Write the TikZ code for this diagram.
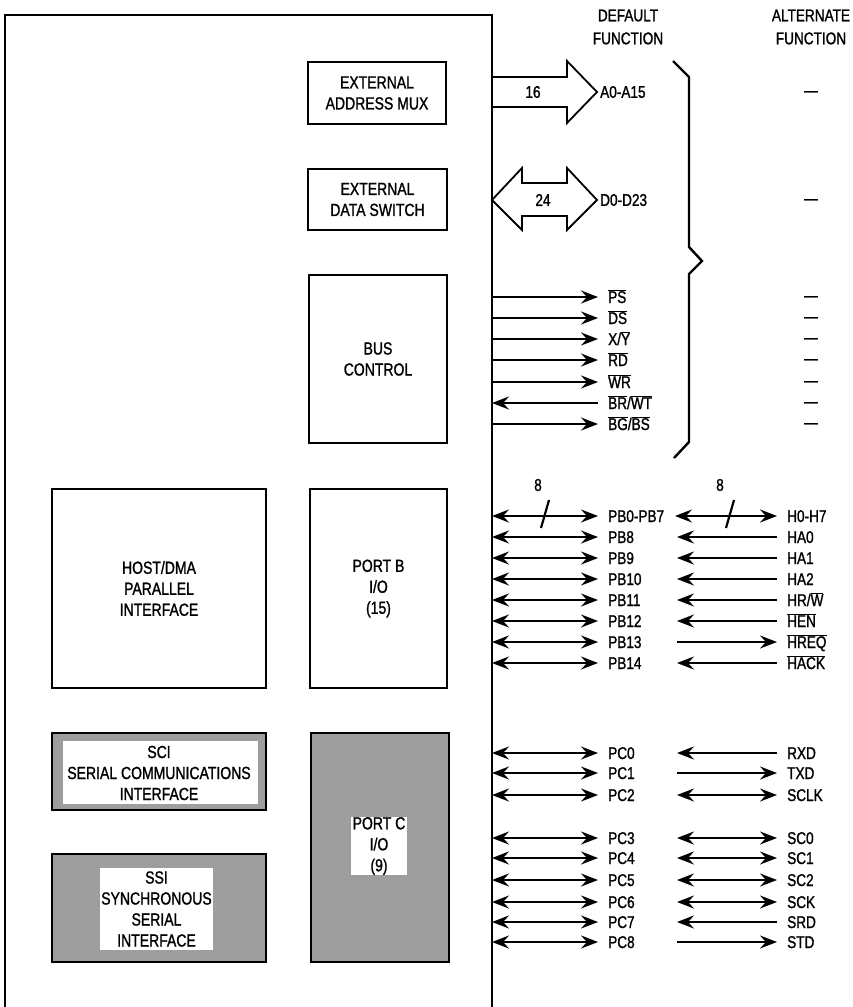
\documentclass[tikz,border=0pt]{standalone}
\usepackage{fontspec}
\setmainfont{Liberation Sans}[FakeStretch=0.8,FakeBold=1.2]
\usetikzlibrary{arrows.meta}
\newcommand\olx[1]{$\overline{\mbox{#1}}$}
\newcommand\defrow[4]{%
  \coordinate (c#1) at (492,#2);
  \coordinate (e#1) at (598,#2);
  \node[lbl,anchor=base west] (d#1) at (608,#2+6) {#3};
  \draw[sig,#4] (c#1) -- (e#1);}
\newcommand\altrow[5]{%
  \coordinate (f#1) at (#5,#2);
  \coordinate (g#1) at (777,#2);
  \node[lbl,anchor=base west] (a#1) at (787,#2+6) {#3};
  \draw[sig,#4] (f#1) -- (g#1);}
\newcommand\dashrow[2]{\node[lbl,anchor=base] (x#1) at (811,#2+4) {---};}
\begin{document}
\begin{tikzpicture}[x=1pt,y=-1pt,
  every node/.style={inner sep=0pt},
  boxtxt/.style={font=\fontsize{17.5}{21}\selectfont, align=center},
  lbl/.style={font=\fontsize{17}{21}\selectfont},
  blk/.style={draw, line width=1.9pt, boxtxt},
  shade/.style={blk, fill=black!38},
  hole/.style={fill=white, boxtxt},
  sig/.style={line width=2.2pt},
  bus/.style={line width=1.8pt, line join=miter},
  >={Stealth[length=17pt,width=13pt,inset=6pt]}]
\useasboundingbox (0,0) rectangle (852,1007);
\fill[white] (0,0) rectangle (852,1007);
% chip outline
\draw[line width=2.8pt] (5,1012) -- (5,15) -- (492,15) -- (492,1012);
% blocks
\node[blk, minimum width=138pt, minimum height=62pt] (eam) at (377,93) {EXTERNAL\\ADDRESS MUX};
\node[blk, minimum width=139pt, minimum height=61pt] (eds) at (377.5,199.5) {EXTERNAL\\DATA SWITCH};
\node[blk, minimum width=138pt, minimum height=168pt] (bus) at (378,359) {BUS\\CONTROL};
\node[blk, minimum width=214pt, minimum height=199pt] (host) at (159,588.5) {HOST/DMA\\PARALLEL\\INTERFACE};
\node[blk, minimum width=137pt, minimum height=199pt] (portb) at (378.5,588.5) {PORT B\\I/O\\(15)};
% SCI
\node[shade, minimum width=214pt, minimum height=77pt] (sci) at (159,771.5) {};
\node[hole, minimum width=195pt, minimum height=63pt] (scihole) at (160.5,772.5) {};
\node[boxtxt, fill=white] (scitxt) at (159,773) {SCI\\SERIAL COMMUNICATIONS\\INTERFACE};
% SSI
\node[shade, minimum width=214pt, minimum height=108pt] (ssi) at (159,908) {};
\node[hole, minimum width=113pt, minimum height=82pt] (ssitxt) at (156.5,909) {SSI\\SYNCHRONOUS\\SERIAL\\INTERFACE};
% Port C
\node[shade, minimum width=138pt, minimum height=229pt] (portc) at (380,847.5) {};
\node[hole, minimum width=56pt, minimum height=58pt] (portctxt) at (379,846) {PORT C\\I/O\\(9)};
% headers
\node[lbl, align=center, font=\fontsize{17}{23}\selectfont] (hdef) at (628,27) {DEFAULT\\FUNCTION};
\node[lbl, align=center, font=\fontsize{17}{23}\selectfont] (halt) at (811,27) {ALTERNATE\\FUNCTION};
% address bus arrow
\draw[bus] (492,77) -- (567,77) -- (567,61) -- (597,92) -- (567,123) -- (567,107) -- (492,107);
\node[lbl] (n16) at (533,92) {16};
\node[lbl, anchor=west] (addr) at (600,92) {A0-A15};
% data bus arrow
\draw[bus] (492,200) -- (522,168) -- (522,183) -- (567,183) -- (567,168) -- (597,200) -- (567,230) -- (567,216) -- (522,216) -- (522,230) -- cycle;
\node[lbl] (n24) at (543,200) {24};
\node[lbl, anchor=west] (data) at (600,200) {D0-D23};
% brace
\draw[line width=2.4pt, line join=miter] (673,61) -- (689,77) -- (689,247) -- (702,261) -- (689,274) -- (689,442) -- (674,458);
\dashrow{A}{92}
\dashrow{D}{200}
% bus control signals
\defrow{1}{297}{\olx{PS}}{->}   \dashrow{1}{297}
\defrow{2}{318}{\olx{DS}}{->}   \dashrow{2}{318}
\defrow{3}{339}{X/\olx{Y}}{->}  \dashrow{3}{339}
\defrow{4}{360}{\olx{RD}}{->}   \dashrow{4}{360}
\defrow{5}{382}{\olx{WR}}{->}   \dashrow{5}{382}
\defrow{6}{403}{\olx{BR}/\olx{WT}}{<-} \dashrow{6}{403}
\defrow{7}{424}{\olx{BG}/\olx{BS}}{->} \dashrow{7}{424}
% port B
\defrow{b0}{516}{PB0-PB7}{<->} \altrow{b0}{516}{H0-H7}{<->}{675}
\defrow{b8}{537}{PB8}{<->}  \altrow{b8}{537}{HA0}{<-}{677}
\defrow{b9}{558}{PB9}{<->}  \altrow{b9}{558}{HA1}{<-}{677}
\defrow{b10}{579}{PB10}{<->} \altrow{b10}{579}{HA2}{<-}{677}
\defrow{b11}{600}{PB11}{<->} \altrow{b11}{600}{HR/\olx{W}}{<-}{677}
\defrow{b12}{621}{PB12}{<->} \altrow{b12}{621}{\olx{HEN}}{<-}{677}
\defrow{b13}{642}{PB13}{<->} \altrow{b13}{642}{\olx{HREQ}}{->}{677}
\defrow{b14}{663}{PB14}{<->} \altrow{b14}{663}{\olx{HACK}}{<-}{677}
% bus width slashes
\draw[line width=2.2pt] (541,528) -- (549,500);
\draw[line width=2.2pt] (726,528) -- (734,500);
\node[lbl] (w1) at (538,485) {8};
\node[lbl] (w2) at (720,485) {8};
% port C
\defrow{c0}{753}{PC0}{<->} \altrow{c0}{753}{RXD}{<-}{677}
\defrow{c1}{773}{PC1}{<->} \altrow{c1}{773}{TXD}{->}{677}
\defrow{c2}{795}{PC2}{<->} \altrow{c2}{795}{SCLK}{<->}{677}
\defrow{c3}{838}{PC3}{<->} \altrow{c3}{838}{SC0}{<->}{677}
\defrow{c4}{858}{PC4}{<->} \altrow{c4}{858}{SC1}{<->}{677}
\defrow{c5}{880}{PC5}{<->} \altrow{c5}{880}{SC2}{<->}{677}
\defrow{c6}{902}{PC6}{<->} \altrow{c6}{902}{SCK}{<->}{677}
\defrow{c7}{922}{PC7}{<->} \altrow{c7}{922}{SRD}{<-}{677}
\defrow{c8}{942}{PC8}{<->} \altrow{c8}{942}{STD}{->}{677}
\end{tikzpicture}
\end{document}
